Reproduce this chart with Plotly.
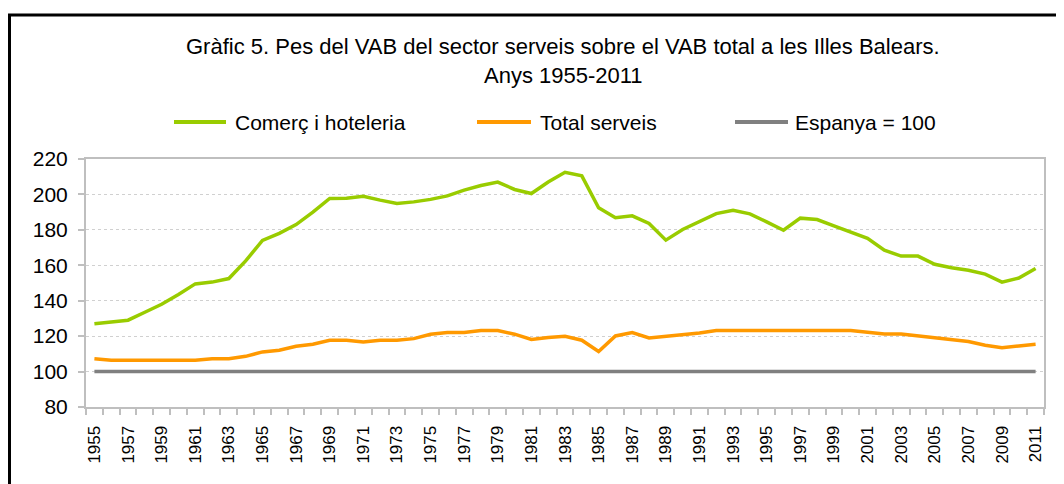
import plotly.graph_objects as go

years = list(range(1955, 2012))
comerc = [127, 128, 129, 133.5, 138, 143.5, 149.5, 150.5, 152.5, 162.5, 174, 178, 183, 190, 197.7, 197.8, 199,
          196.8, 194.9, 195.8, 197.2, 199.2, 202.4, 205, 207, 202.8, 200.5, 207, 212.5, 210.5, 192.5, 186.8, 187.9,
          183.6, 174.2, 180.2, 184.6, 189.2, 191, 189, 184.5, 179.8, 186.6, 185.8, 182.2, 178.9, 175.2, 168.5, 165.2,
          165.2, 160.6, 158.6, 157.2, 155, 150.5, 152.8, 158.2]
total = [107.3, 106.4, 106.4, 106.4, 106.4, 106.4, 106.4, 107.3, 107.3, 108.6, 111.1, 112, 114.3, 115.4, 117.7, 117.7,
         116.7, 117.7, 117.7, 118.6, 121.1, 122, 122, 123.2, 123.2, 121.1, 118.1, 119.2, 119.9, 117.7, 111.3, 120.1,
         122, 119, 119.9, 120.8, 121.8, 123.2, 123.2, 123.2, 123.2, 123.2, 123.2, 123.2, 123.2, 123.2, 122.2, 121.2,
         121.2, 120.1, 119, 118.1, 117, 114.9, 113.4, 114.5, 115.4]
espanya = [100] * len(years)

series_names = ["Comerç i hoteleria", "Total serveis", "Espanya = 100"]
colors = ["#99CC00", "#FF9900", "#808080"]
tick_years = years[::2]
tick_labels = [str(y) for y in tick_years]
y_ticks = list(range(80, 221, 20))
title_lines = ["Gràfic 5. Pes del VAB del sector serveis sobre el VAB total a les Illes Balears.",
               "Anys 1955-2011"]

FONT = "Liberation Sans, Arial, sans-serif"

fig = go.Figure()
for name, vals, col in zip(series_names, [comerc, total, espanya], colors):
    fig.add_trace(go.Scatter(x=years, y=vals, mode="lines", name=name,
                             line=dict(color=col, width=3.5), showlegend=False))

# page has an 8px body margin -> figure origin at (8, 8) on the page
OFF = 8
FW, FH = 1064 - OFF, 484 - OFF
# plot area in page pixels
L, R, T, B = 86, 1044, 159, 407
W, H = R - L, B - T
def px(x):
    return (x - L) / W
def py(y):
    return (B - y) / H

shapes = []
annotations = []
# outer black frame
shapes.append(dict(type="rect", xref="paper", yref="paper", x0=px(9.5), x1=px(1090), y0=py(15), y1=py(520),
                   line=dict(color="black", width=3), layer="below"))
# custom legend
leg = [(174, 226, 233), (477, 531, 538), (735, 788, 793)]
ly = py(122)
for (a, b, t), name, col in zip(leg, series_names, colors):
    shapes.append(dict(type="line", xref="paper", yref="paper", x0=px(a), x1=px(b), y0=ly, y1=ly,
                       line=dict(color=col, width=4)))
    annotations.append(dict(xref="paper", yref="paper", x=px(t), y=ly, text=name, showarrow=False,
                            xanchor="left", yanchor="middle", font=dict(family=FONT, size=21, color="black")))
# title (two lines)
for line, yy in zip(title_lines, [47, 75]):
    annotations.append(dict(xref="paper", yref="paper", x=px(563), y=py(yy), showarrow=False, xanchor="center",
                            yanchor="middle", text=line, font=dict(family=FONT, size=22, color="black")))

fig.update_layout(
    width=FW, height=FH,
    margin=dict(l=L - OFF, r=1064 - R, t=T - OFF, b=484 - B),
    paper_bgcolor="white", plot_bgcolor="white",
    font=dict(family=FONT, color="black"),
    shapes=shapes, annotations=annotations,
)
fig.update_xaxes(range=[1954.5, 2011.5], tickmode="array", tickvals=tick_years, ticktext=tick_labels,
                 tickangle=-90, ticks="", showgrid=False, showline=True, linecolor="#BFBFBF", linewidth=2,
                 mirror=True, tickfont=dict(family=FONT, size=17, color="black"), ticklabelstandoff=10,
                 minor=dict(ticks="outside", tick0=1954.5, dtick=1, ticklen=6, tickcolor="#BFBFBF",
                            tickwidth=1.5, showgrid=False),
                 zeroline=False)
fig.update_yaxes(range=[80, 220], tickmode="array", tickvals=y_ticks, ticks="outside", ticklen=6,
                 tickcolor="#BFBFBF", tickwidth=1.5, showline=True, linecolor="#BFBFBF", linewidth=2,
                 mirror=True, showgrid=True, gridcolor="#D0D0D0", gridwidth=1, griddash="dot",
                 tickfont=dict(family=FONT, size=21, color="black"), ticklabelstandoff=6, zeroline=False)

fig.write_html("out.html")
